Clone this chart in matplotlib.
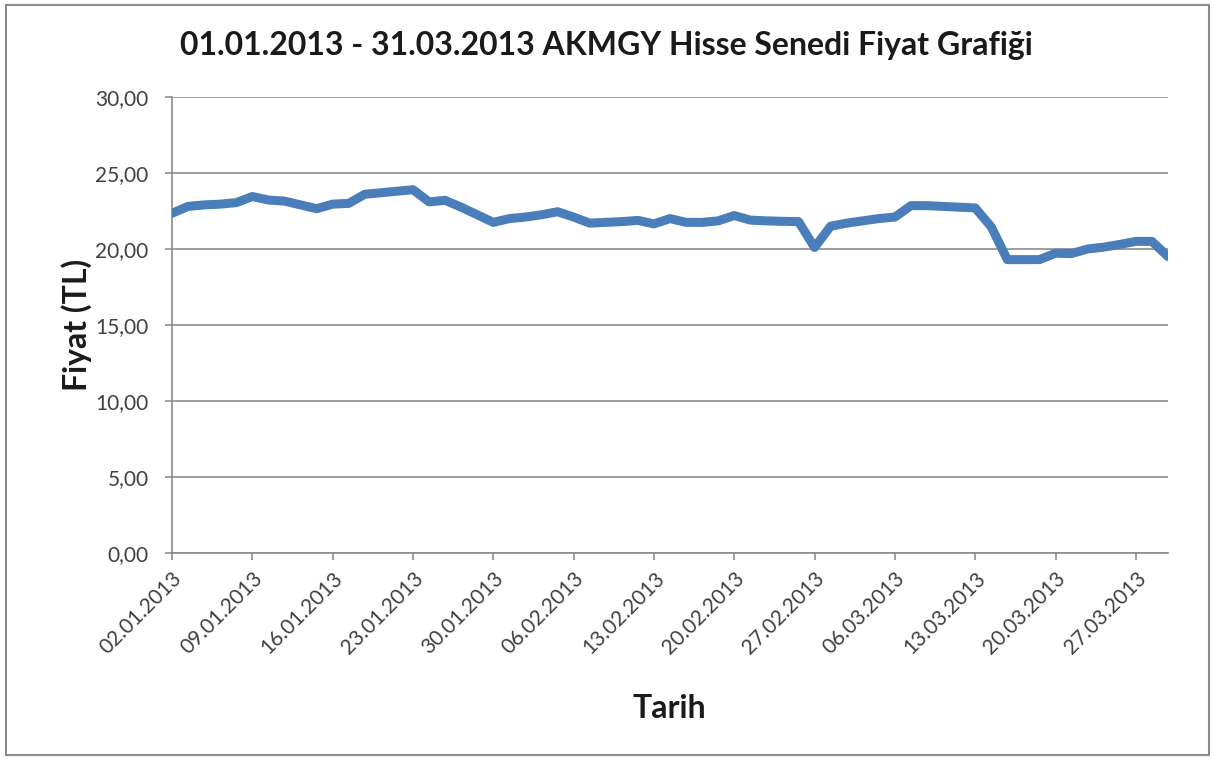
import matplotlib.pyplot as plt
from matplotlib.patches import Rectangle
from matplotlib.ticker import FuncFormatter

# trading days 02.01.2013 - 29.03.2013
dates = [
    '02.01.2013', '03.01.2013', '04.01.2013', '07.01.2013', '08.01.2013',
    '09.01.2013', '10.01.2013', '11.01.2013', '14.01.2013', '15.01.2013',
    '16.01.2013', '17.01.2013', '18.01.2013', '21.01.2013', '22.01.2013',
    '23.01.2013', '24.01.2013', '25.01.2013', '28.01.2013', '29.01.2013',
    '30.01.2013', '31.01.2013', '01.02.2013', '04.02.2013', '05.02.2013',
    '06.02.2013', '07.02.2013', '08.02.2013', '11.02.2013', '12.02.2013',
    '13.02.2013', '14.02.2013', '15.02.2013', '18.02.2013', '19.02.2013',
    '20.02.2013', '21.02.2013', '22.02.2013', '25.02.2013', '26.02.2013',
    '27.02.2013', '28.02.2013', '01.03.2013', '04.03.2013', '05.03.2013',
    '06.03.2013', '07.03.2013', '08.03.2013', '11.03.2013', '12.03.2013',
    '13.03.2013', '14.03.2013', '15.03.2013', '18.03.2013', '19.03.2013',
    '20.03.2013', '21.03.2013', '22.03.2013', '25.03.2013', '26.03.2013',
    '27.03.2013', '28.03.2013', '29.03.2013',
]

prices = [
    22.35, 22.80, 22.90, 22.95, 23.05, 23.45, 23.22, 23.15, 22.90, 22.65,
    22.95, 23.00, 23.60, 23.70, 23.80, 23.90, 23.10, 23.20, 22.75, 22.25,
    21.75, 22.00, 22.10, 22.25, 22.45, 22.10, 21.70, 21.75, 21.80, 21.88,
    21.65, 22.00, 21.75, 21.75, 21.85, 22.20, 21.90, 21.85, 21.82, 21.80,
    20.10, 21.50, 21.70, 21.85, 22.00, 22.10, 22.85, 22.85, 22.80, 22.75,
    22.70, 21.45, 19.30, 19.30, 19.30, 19.72, 19.70, 20.00, 20.12, 20.30,
    20.50, 20.50, 19.50,
]

yticks = [0, 5, 10, 15, 20, 25, 30]

plt.rcParams['font.family'] = ['Lato', 'DejaVu Sans']

fig = plt.figure(figsize=(12.15, 7.6), dpi=100)
ax = fig.add_axes([0.1416, 0.2724, 0.8197, 0.60])

x = list(range(len(prices)))
ax.plot(x, prices, color='#4a7ebb', linewidth=6.5, solid_joinstyle='round',
        solid_capstyle='round', zorder=3)

ax.set_xlim(0, len(prices) - 1)
ax.set_ylim(0, 30)
ax.set_yticks(yticks)
ax.yaxis.set_major_formatter(FuncFormatter(lambda v, p: f'{v:.2f}'.replace('.', ',')))
ax.set_xticks(x[::5])
ax.set_xticklabels(dates[::5], rotation=45, ha='right', rotation_mode='anchor')

ax.grid(axis='y', color='#8c8c8c', linewidth=1.2)
ax.set_axisbelow(True)
for s in ['top', 'right']:
    ax.spines[s].set_visible(False)
for s in ['left', 'bottom']:
    ax.spines[s].set_color('#8c8c8c')
    ax.spines[s].set_linewidth(1.2)
ax.tick_params(axis='both', colors='#8c8c8c', length=5, width=1.2,
               labelsize=15, labelcolor='#404040')
ax.tick_params(axis='y', pad=12)
ax.tick_params(axis='x', pad=6)

fig.text(0.499, 0.94, '01.01.2013 - 31.03.2013 AKMGY Hisse Senedi Fiyat Grafiği',
         ha='center', va='center', fontsize=23, fontweight='bold', color='#1a1a1a')
fig.text(0.063, 0.572, 'Fiyat (TL)', rotation=90, ha='center', va='center',
         fontsize=23, fontweight='bold', color='#1a1a1a')
fig.text(0.551, 0.068, 'Tarih', ha='center', va='center',
         fontsize=23, fontweight='bold', color='#1a1a1a')

fig.patches.append(Rectangle((0.005, 0.006), 0.99, 0.988, transform=fig.transFigure,
                             fill=False, edgecolor='#8c8c8c', linewidth=1.5))

plt.savefig('out.png', dpi=100)
plt.close()
